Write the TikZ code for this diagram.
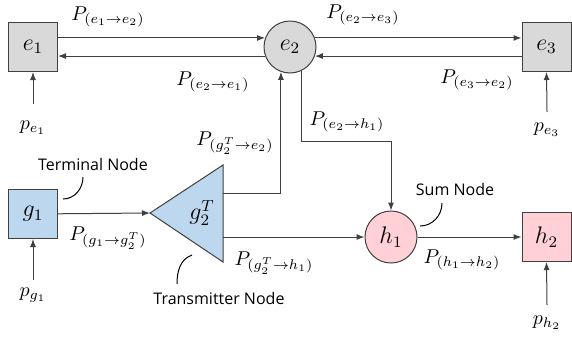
\documentclass[tikz,border=0pt]{standalone}
\usepackage{fontspec}
\newfontfamily\notefont{Open Sans}
\usetikzlibrary{arrows.meta,positioning,calc}
\definecolor{busgray}{HTML}{D9D9D9}
\definecolor{busblue}{HTML}{BDD7EE}
\definecolor{buspink}{HTML}{FFD1D6}
\definecolor{edgegray}{HTML}{404040}

\begin{document}
\begin{tikzpicture}[
  x=0.5pt, y=-0.5pt,
  bus/.style={draw=edgegray, line width=0.5pt, inner sep=0pt, font=\large},
  sq/.style={bus, rectangle, minimum size=24.5pt},
  rnd/.style={bus, circle, minimum size=26pt},
  arr/.style={-{Latex[length=4pt,width=3pt]}, draw=edgegray, line width=0.5pt},
  lbl/.style={inner sep=0pt},
  note/.style={font=\notefont\footnotesize, inner sep=0pt},
  hook/.style={draw=black, line width=0.5pt},
]
  \useasboundingbox (0,0) rectangle (572,338);

  % buses
  \node[sq, fill=busgray] (e1) at (33,47) {$e_1$};
  \node[rnd, fill=busgray] (e2) at (290,47) {$e_2$};
  \node[sq, fill=busgray] (e3) at (546.5,47) {$e_3$};
  \node[sq, fill=busblue] (g1) at (33,214) {$g_1$};
  \node[rnd, fill=buspink] (h1) at (391,237) {$h_1$};
  \node[sq, fill=buspink] (h2) at (546.5,237) {$h_2$};

  % transmitter
  \coordinate (g2tip) at (150,213);
  \coordinate (g2top) at (223,165);
  \coordinate (g2bot) at (223,262);
  \draw[bus, fill=busblue] (g2tip) -- (g2top) -- (g2bot) -- cycle;
  \node[font=\large, inner sep=0pt] (g2) at (202,213) {$g_2^T$};
  \coordinate (g2up) at (223,193);
  \coordinate (g2dn) at (223,237);

  % injections
  \node[lbl] (pe1) at (33,128) {$p_{e_1}$};
  \node[lbl] (pe3) at (547,130) {$p_{e_3}$};
  \node[lbl] (pg1) at (33,295) {$p_{g_1}$};
  \node[lbl] (ph2) at (547,323) {$p_{h_2}$};
  \draw[arr] (pe1.north |- 0,104) -- (e1.south);
  \draw[arr] (pe3.north |- 0,112) -- (e3.south);
  \draw[arr] (pg1.north |- 0,280) -- (g1.south);
  \draw[arr] (ph2.north |- 0,305) -- (h2.south);

  % flows
  \draw[arr] (e1.east |- e2.160) -- (e2.160);
  \draw[arr] (e2.200) -- (e1.east |- e2.200);
  \draw[arr] (e2.20) -- (e3.west |- e2.20);
  \draw[arr] (e3.west |- e2.-20) -- (e2.-20);
  \coordinate (eh) at (391,141);
  \draw[arr] (e2.-65) |- (eh) -- (h1);
  \draw[arr] (g2up) -| (e2.-110);
  \draw[arr] (g1) -- (g2tip);
  \draw[arr] (g2dn) -- (h1);
  \draw[arr] (h1) -- (h2);

  % flow labels
  \node[lbl] (f12) at (108,17) {$P_{(e_1\to e_2)}$};
  \node[lbl] (f21) at (213,82) {$P_{(e_2\to e_1)}$};
  \node[lbl] (f23) at (363,15) {$P_{(e_2\to e_3)}$};
  \node[lbl] (f32) at (477,80) {$P_{(e_3\to e_2)}$};
  \node[lbl] (f2h) at (347,122) {$P_{(e_2\to h_1)}$};
  \node[lbl] (fge) at (235,143) {$P_{(g_2^T\to e_2)}$};
  \node[lbl] (fgg) at (108,238) {$P_{(g_1\to g_2^T)}$};
  \node[lbl] (fgh) at (274,263) {$P_{(g_2^T\to h_1)}$};
  \node[lbl] (fhh) at (462,260) {$P_{(h_1\to h_2)}$};

  % notes
  \node[note] (term) at (93,164) {Terminal Node};
  \node[note] (trans) at (219,298) {Transmitter Node};
  \node[note] (sum) at (455,189) {Sum Node};
  \draw[hook] (83,177) to[out=-90, in=0] (63,199);
  \draw[hook] (192,255) to[out=200, in=90] (177,284);
  \draw[hook] (442,203) to[out=-90, in=0] (420,226);
\end{tikzpicture}
\end{document}
